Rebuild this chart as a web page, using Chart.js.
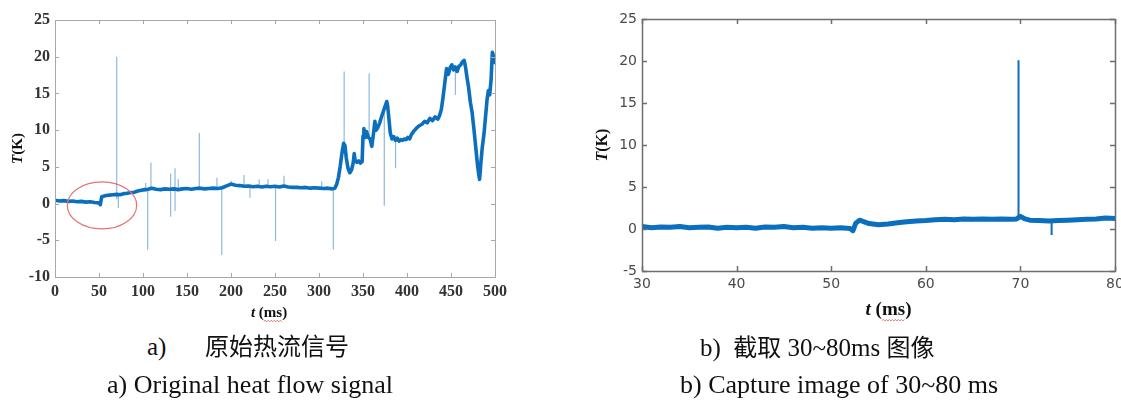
<!DOCTYPE html>
<html>
<head>
<meta charset="utf-8">
<script src="https://cdn.jsdelivr.net/npm/chart.js@4.4.1/dist/chart.umd.min.js"></script>
<style>
  html, body { margin: 0; padding: 0; width: 1121px; height: 403px; overflow: hidden; background: #fff; }
  canvas { position: absolute; top: 0; }
  #chartA { left: 0; }
  #chartB { left: 575px; }
  .cap { position: absolute; font-family: "Liberation Serif", "Times New Roman", serif; font-size: 25px; color: #111; white-space: pre; line-height: 1; }
  .zh { font-family: "Noto Sans CJK SC", sans-serif; font-size: 24px; }
  .en { font-size: 26px; }
</style>
</head>
<body>
<canvas id="chartA" width="525" height="330"></canvas>
<canvas id="chartB" width="560" height="330"></canvas>

<div class="cap" style="left:147px; top:334px">a)</div>
<div class="cap zh" style="left:205px; top:333px">原始热流信号</div>
<div class="cap en" style="left:107px; top:372px">a) Original heat flow signal</div>
<div class="cap" style="left:700px; top:334px">b)  <span class="zh">截取</span> 30~80ms <span class="zh">图像</span></div>
<div class="cap en" style="left:680px; top:372px">b) Capture image of 30~80 ms</div>

<script>
// ---------- a) full record, 0–500 ms ----------
const rawTime = [
  0, 5, 10, 15, 20, 25, 30, 35, 40, 45, 50, 51.5, 53, 55, 58, 62, 66, 70, 74, 78,
  82, 86, 90, 94, 98, 102, 106, 110, 115, 120, 125, 130, 135, 140, 145, 150, 155, 160, 165, 170,
  175, 180, 185, 190, 195, 200, 205, 210, 215, 220, 225, 230, 235, 240, 245, 250, 255, 260, 265, 270,
  275, 280, 285, 290, 295, 300, 305, 310, 315, 318, 320, 322, 324, 326, 328, 329.5, 331, 333, 335, 337,
  339, 340, 341, 343, 345, 347, 349, 350, 351, 352.5, 354, 356, 358, 360, 362, 363.5, 365, 367, 369, 371,
  373, 375, 377, 378, 379.5, 381, 383, 385, 387, 389, 391, 393, 395, 397, 399, 401, 403, 405, 408, 411,
  414, 417, 420, 423, 426, 429, 432, 435, 437, 439, 441, 443, 445, 447, 449, 451, 453, 455, 457, 459,
  461, 463, 465, 466.5, 468, 470, 472, 474, 476, 478, 480, 481.5, 482.5, 484, 485.5, 487.5, 489, 491, 492.5, 494,
  495.5, 497, 498, 499, 500
];
const rawTemp = [
  0.45, 0.35, 0.4, 0.3, 0.35, 0.25, 0.3, 0.2, 0.25, 0.15, 0.1, -0.15, 0.9, 1.0, 1.1, 1.15, 1.2, 1.25, 1.2, 1.35,
  1.4, 1.5, 1.55, 1.7, 1.8, 1.9, 1.95, 2.1, 1.95, 1.9, 2.0, 1.95, 2.0, 1.9, 2.0, 2.05, 1.95, 2.05, 2.1, 2.0,
  2.05, 2.1, 2.05, 2.15, 2.4, 2.65, 2.5, 2.45, 2.35, 2.4, 2.3, 2.35, 2.25, 2.35, 2.3, 2.35, 2.25, 2.4, 2.25, 2.2,
  2.2, 2.15, 2.2, 2.1, 2.15, 2.1, 2.05, 2.1, 2.0, 2.1, 2.6, 3.5, 5.0, 6.8, 8.2, 7.9, 6.2, 4.8, 4.2, 4.6,
  5.6, 6.8, 5.9, 5.6, 5.8, 5.5, 5.7, 9.2, 10.2, 9.0, 9.8, 9.0, 8.8, 7.8, 9.6, 11.2, 10.0, 10.4, 11.0, 11.8,
  12.5, 13.2, 13.9, 13.3, 11.5, 9.6, 8.8, 9.1, 8.6, 8.9, 8.5, 8.7, 8.6, 8.8, 8.7, 9.0, 8.8, 9.4, 9.9, 10.3,
  10.6, 10.8, 11.2, 11.0, 11.6, 11.3, 11.8, 11.5, 12.0, 12.8, 14.5, 16.5, 18.4, 17.6, 18.5, 18.9, 18.2, 18.6, 18.0, 18.7,
  18.9, 19.3, 19.5, 18.6, 17.3, 15.8, 13.8, 12.4, 10.2, 7.8, 5.4, 4.0, 3.3, 5.6, 7.6, 9.5, 11.5, 14.2, 15.4, 14.8,
  16.8, 20.6, 20.2, 19.6, 19.2
];
// isolated spikes: time, lower end, upper end
const rawSpikeTime = [70.1, 72, 103, 105.3, 109, 131.4, 136.4, 140, 164, 184, 189.5, 200, 214.8, 221.6, 232, 242, 250.6, 260.2, 303, 316.3, 328.6, 357, 374.2, 387, 455];
const rawSpikeLow  = [0.6, -0.6, 1.6, -6.3, 1.9, -1.8, -1.0, 1.8, 1.9, 2.0, -7.0, 2.5, 2.3, 0.8, 2.2, 2.2, -5.1, 2.2, 2.0, -6.3, 7.0, 9.0, -0.3, 4.8, 14.8];
const rawSpikeHigh = [20.0, 1.2, 2.8, 2.0, 5.6, 4.1, 4.8, 3.3, 9.6, 3.5, 2.1, 3.1, 3.9, 2.4, 3.3, 3.3, 2.3, 3.8, 3.0, 2.1, 18.0, 17.7, 12.8, 8.7, 18.3];

// ---------- b) zoomed window, 30–80 ms ----------
const cutTime = [
  30, 31, 32, 33, 34, 35, 36, 37, 38, 39, 40, 41, 42, 43, 44, 45, 46, 47, 48, 49,
  50, 51, 52, 52.3, 52.6, 53, 53.5, 54, 55, 56, 57, 58, 59, 60, 61, 62, 63, 64, 65, 66,
  67, 68, 69, 69.6, 70, 70.5, 71, 72, 73, 74, 75, 76, 77, 78, 79, 80
];
const cutTemp = [
  0.3, 0.15, 0.25, 0.2, 0.3, 0.15, 0.2, 0.25, 0.1, 0.2, 0.15, 0.2, 0.1, 0.25, 0.2, 0.3, 0.15, 0.2, 0.1, 0.15,
  0.1, 0.15, 0.05, -0.2, 0.7, 1.05, 0.85, 0.65, 0.5, 0.6, 0.75, 0.85, 0.95, 1.0, 1.1, 1.15, 1.1, 1.2, 1.15, 1.2,
  1.15, 1.2, 1.15, 1.2, 1.5, 1.2, 1.05, 1.0, 0.95, 1.0, 1.05, 1.1, 1.15, 1.2, 1.3, 1.25
];
const cutSpikeTime = [69.8, 73.3];
const cutSpikeLow  = [1.2, -0.7];
const cutSpikeHigh = [20.1, 1.0];

// axis ranges and tick steps
const rawX = [0, 500, 50], rawY = [-10, 25, 5];
const cutX = [30, 80, 10], cutY = [-5, 25, 5];

// marked region on the full record: centre time, centre value, half-widths
const markT = 53.4, markV = -0.25, markRT = 39.4, markRV = 3.2;

const BLUE = '#0b6fbd';

const toXY = (ts, vs) => ts.map((t, i) => ({ x: t, y: vs[i] }));
const toSpikes = (ts, lo, hi) => ts.flatMap((t, i) => [{ x: t, y: lo[i] }, { x: t, y: hi[i] }, { x: t, y: null }]);

// box frame with inward ticks on all four sides
function framePlugin(color, width, tickLen) {
  return {
    id: 'frameBox',
    afterDatasetsDraw(chart) {
      const { ctx, chartArea: a, scales: { x, y } } = chart;
      ctx.save();
      ctx.strokeStyle = color;
      ctx.lineWidth = width;
      ctx.beginPath();
      x.ticks.forEach(t => {
        const px = Math.round(x.getPixelForValue(t.value)) + 0.5;
        ctx.moveTo(px, a.bottom); ctx.lineTo(px, a.bottom - tickLen);
        ctx.moveTo(px, a.top); ctx.lineTo(px, a.top + tickLen);
      });
      y.ticks.forEach(t => {
        const py = Math.round(y.getPixelForValue(t.value)) + 0.5;
        ctx.moveTo(a.left, py); ctx.lineTo(a.left + tickLen, py);
        ctx.moveTo(a.right, py); ctx.lineTo(a.right - tickLen, py);
      });
      ctx.stroke();
      ctx.strokeRect(Math.round(a.left) + 0.5, Math.round(a.top) + 0.5, Math.round(a.right - a.left), Math.round(a.bottom - a.top));
      ctx.restore();
    }
  };
}

// axis titles: italic symbol followed by upright unit
function titlePlugin(ySize, xSize, yTitleX, xTitleDX, xTitleY) {
  return {
    id: 'axisTitles',
    afterDraw(chart) {
      const { ctx, chartArea: a } = chart;
      const fam = '"Liberation Serif", "Times New Roman", serif';
      ctx.save();
      ctx.fillStyle = '#111';
      ctx.textBaseline = 'middle';
      // vertical title T(K)
      let fI = `italic bold ${ySize}px ${fam}`, fB = `bold ${ySize}px ${fam}`;
      ctx.font = fI; const wT = ctx.measureText('T').width;
      ctx.font = fB; const wK = ctx.measureText('(K)').width;
      ctx.save();
      ctx.translate(yTitleX, (a.top + a.bottom) / 2);
      ctx.rotate(-Math.PI / 2);
      ctx.textAlign = 'left';
      const s0 = -(wT + wK) / 2;
      ctx.font = fI; ctx.fillText('T', s0, 0);
      ctx.font = fB; ctx.fillText('(K)', s0 + wT, 0);
      ctx.restore();
      // horizontal title t (ms)
      fI = `italic bold ${xSize}px ${fam}`; fB = `bold ${xSize}px ${fam}`;
      ctx.font = fI; const wt = ctx.measureText('t').width;
      ctx.font = fB; const wSp = ctx.measureText(' (').width, wMs = ctx.measureText('ms').width, wRest = ctx.measureText(' (ms)').width;
      const cx = (a.left + a.right) / 2 + xTitleDX;
      const x0 = cx - (wt + wRest) / 2;
      ctx.textAlign = 'left';
      ctx.font = fI; ctx.fillText('t', x0, xTitleY);
      ctx.font = fB; ctx.fillText(' (ms)', x0 + wt, xTitleY);
      // red wavy underline under the unit
      const u0 = x0 + wt + wSp, u1 = u0 + wMs, uy = xTitleY + xSize * 0.55;
      ctx.strokeStyle = '#e05050';
      ctx.lineWidth = 0.8;
      ctx.beginPath();
      let up = true;
      ctx.moveTo(u0, uy);
      for (let px = u0 + 1.5; px <= u1; px += 1.5) { ctx.lineTo(px, up ? uy - 1 : uy + 0.5); up = !up; }
      ctx.stroke();
      ctx.restore();
    }
  };
}

// ellipse around the step near 50 ms
const markPlugin = {
  id: 'markRegion',
  afterDatasetsDraw(chart) {
    const { ctx, scales: { x, y } } = chart;
    const cx = x.getPixelForValue(markT), cy = y.getPixelForValue(markV);
    const rx = Math.abs(x.getPixelForValue(markT + markRT) - cx);
    const ry = Math.abs(y.getPixelForValue(markV + markRV) - cy);
    ctx.save();
    ctx.strokeStyle = '#e57373';
    ctx.lineWidth = 1.2;
    ctx.beginPath();
    ctx.ellipse(cx, cy, rx, ry, 0, 0, Math.PI * 2);
    ctx.stroke();
    ctx.restore();
  }
};

function axes(xr, yr, tickFont, tickColor, yWidth, xHeight, yPad, xPad) {
  return {
    x: {
      type: 'linear', min: xr[0], max: xr[1],
      ticks: { stepSize: xr[2], font: tickFont, color: tickColor, padding: xPad, maxRotation: 0, autoSkip: false },
      grid: { display: false, drawTicks: false },
      border: { display: false },
      afterFit(s) { s.height = xHeight; s.paddingLeft = 0; s.paddingRight = 0; }
    },
    y: {
      type: 'linear', min: yr[0], max: yr[1],
      ticks: { stepSize: yr[2], font: tickFont, color: tickColor, padding: yPad },
      grid: { display: false, drawTicks: false },
      border: { display: false },
      afterFit(s) { s.width = yWidth; }
    }
  };
}

const common = {
  responsive: false,
  animation: false,
  devicePixelRatio: 1,
  events: [],
  plugins: { legend: { display: false }, tooltip: { enabled: false } },
  elements: { point: { radius: 0 }, line: { borderJoinStyle: 'round', borderCapStyle: 'round' } }
};

new Chart(document.getElementById('chartA'), {
  type: 'line',
  data: {
    datasets: [
      { data: toXY(rawTime, rawTemp), borderColor: BLUE, borderWidth: 3.6, tension: 0, spanGaps: false },
      { data: toSpikes(rawSpikeTime, rawSpikeLow, rawSpikeHigh), borderColor: 'rgba(70,140,200,0.6)', borderWidth: 1.2, borderCapStyle: 'butt', spanGaps: false }
    ]
  },
  options: Object.assign({}, common, {
    layout: { padding: { top: 20, right: 30, left: 0, bottom: 0 } },
    scales: axes(rawX, rawY, { family: '"Liberation Serif", "Times New Roman", serif', size: 16, weight: 'bold' }, '#333333', 55, 53, 5, 5)
  }),
  plugins: [framePlugin('#a8a8a8', 1, 4), titlePlugin(15, 15, 18, -6, 313), markPlugin]
});

new Chart(document.getElementById('chartB'), {
  type: 'line',
  data: {
    datasets: [
      { data: toXY(cutTime, cutTemp), borderColor: BLUE, borderWidth: 5, tension: 0, spanGaps: false },
      { data: toSpikes(cutSpikeTime, cutSpikeLow, cutSpikeHigh), borderColor: BLUE, borderWidth: 2, borderCapStyle: 'butt', spanGaps: false }
    ]
  },
  options: Object.assign({}, common, {
    layout: { padding: { top: 19, right: 20, left: 0, bottom: 0 } },
    scales: axes(cutX, cutY, { family: '"DejaVu Sans", sans-serif', size: 14 }, '#4a4a4a', 67, 59, 5, 5)
  }),
  plugins: [framePlugin('#6e6e6e', 1.5, 5), titlePlugin(16, 19, 28, 10, 310)]
});
</script>
</body>
</html>
